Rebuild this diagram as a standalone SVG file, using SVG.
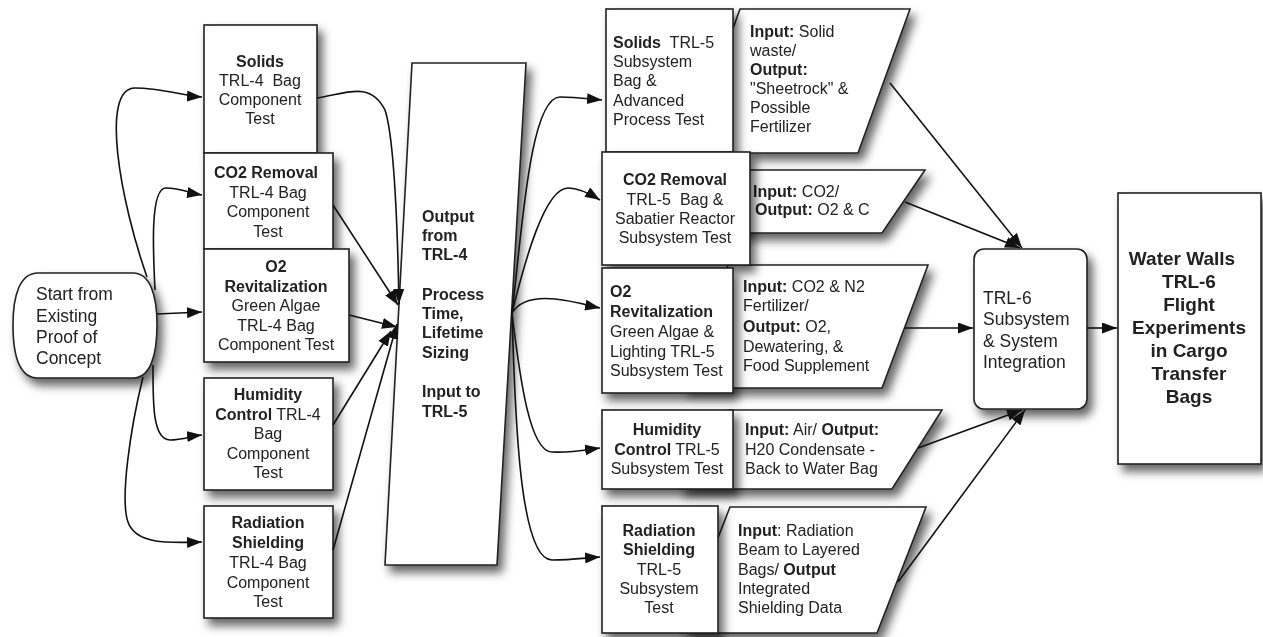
<svg xmlns="http://www.w3.org/2000/svg" width="1263" height="637" viewBox="0 0 1263 637">
<defs>
<filter id="sh" x="-20%" y="-20%" width="150%" height="150%">
<feDropShadow dx="5" dy="7" stdDeviation="5" flood-color="#000" flood-opacity="0.6"/>
</filter>
<marker id="ah" viewBox="0 0 15 11" refX="15" refY="5.5" markerWidth="15" markerHeight="11" markerUnits="userSpaceOnUse" orient="auto">
<path d="M0,0 L15,5.5 L0,11 Z" fill="#111"/>
</marker>
</defs>
<style>
.shape{fill:#fff;stroke:#222;stroke-width:1.6;}
.t{font-family:"Liberation Sans",Arial,sans-serif;font-size:16px;fill:#222;}
.c{text-anchor:middle;}
.b{font-weight:bold;}
.big{font-size:17.5px;}
.ww{font-size:19px;font-weight:bold;}
.conn path{fill:none;stroke:#111;stroke-width:1.6;marker-end:url(#ah);}
</style>
<rect width="1263" height="637" fill="#fff"/>

<!-- Start node -->
<g id="start" filter="url(#sh)">
<path class="shape" d="M38,273 H133 C150,273 157,295 157,325 C157,356 150,378 133,378 H38 C20,378 13,356 13,325 C13,295 20,273 38,273 Z"/>
<text class="t big" x="36" y="300">Start from</text>
<text class="t big" x="36" y="322">Existing</text>
<text class="t big" x="36" y="343">Proof of</text>
<text class="t big" x="36" y="364">Concept</text>
</g>

<!-- TRL-4 column -->
<g id="trl4-solids" filter="url(#sh)">
<rect class="shape" x="204" y="25" width="113" height="128"/>
<text class="t c" x="260" xml:space="preserve"><tspan class="b" x="260" y="67">Solids</tspan><tspan x="260" y="86">TRL-4  Bag</tspan><tspan x="260" y="105">Component</tspan><tspan x="260" y="124">Test</tspan></text>
</g>
<g id="trl4-co2" filter="url(#sh)">
<rect class="shape" x="204" y="153" width="129" height="96"/>
<text class="t c"><tspan class="b" x="266" y="178">CO2 Removal</tspan><tspan x="268" y="198">TRL-4 Bag</tspan><tspan x="268" y="217">Component</tspan><tspan x="268" y="237">Test</tspan></text>
</g>
<g id="trl4-o2" filter="url(#sh)">
<rect class="shape" x="204" y="249" width="145" height="113"/>
<text class="t c"><tspan class="b" x="276" y="272">O2</tspan><tspan class="b" x="276" y="292">Revitalization</tspan><tspan x="276" y="311">Green Algae</tspan><tspan x="276" y="331">TRL-4 Bag</tspan><tspan x="276" y="350">Component Test</tspan></text>
</g>
<g id="trl4-humidity" filter="url(#sh)">
<rect class="shape" x="204" y="378" width="129" height="112"/>
<text class="t c"><tspan class="b" x="268" y="400">Humidity</tspan><tspan x="268" y="420"><tspan class="b">Control</tspan> TRL-4</tspan><tspan x="268" y="439">Bag</tspan><tspan x="268" y="459">Component</tspan><tspan x="268" y="478">Test</tspan></text>
</g>
<g id="trl4-radiation" filter="url(#sh)">
<rect class="shape" x="204" y="506" width="129" height="112"/>
<text class="t c"><tspan class="b" x="268" y="528">Radiation</tspan><tspan class="b" x="268" y="548">Shielding</tspan><tspan x="268" y="568">TRL-4 Bag</tspan><tspan x="268" y="588">Component</tspan><tspan x="268" y="607">Test</tspan></text>
</g>

<!-- Middle -->
<g id="output-trl4" filter="url(#sh)">
<path class="shape" d="M412,63 L526,63 L497,565 L385,565 Z"/>
<text class="t b"><tspan x="422" y="222">Output</tspan><tspan x="422" y="241">from</tspan><tspan x="422" y="260">TRL-4</tspan><tspan x="422" y="300">Process</tspan><tspan x="422" y="319">Time,</tspan><tspan x="422" y="338">Lifetime</tspan><tspan x="422" y="358">Sizing</tspan><tspan x="422" y="397">Input to</tspan><tspan x="422" y="417">TRL-5</tspan></text>
</g>

<!-- TRL-5 inputs/outputs (parallelograms) -->
<g id="io-solids" filter="url(#sh)">
<path class="shape" d="M740,9 L910,9 L858,153 L688,153 Z"/>
<text class="t"><tspan x="750" y="37"><tspan class="b">Input:</tspan> Solid</tspan><tspan x="750" y="56">waste/</tspan><tspan class="b" x="750" y="75">Output:</tspan><tspan x="750" y="94">"Sheetrock" &amp;</tspan><tspan x="750" y="113">Possible</tspan><tspan x="750" y="132">Fertilizer</tspan></text>
</g>
<g id="io-co2" filter="url(#sh)">
<path class="shape" d="M745,170 L925,170 L882,233 L702,233 Z"/>
<text class="t"><tspan x="753" y="197"><tspan class="b">Input:</tspan> CO2/</tspan><tspan x="755" y="215"><tspan class="b">Output:</tspan> O2 &amp; C</tspan></text>
</g>
<g id="io-o2" filter="url(#sh)">
<path class="shape" d="M728,265 L928,265 L882,388 L682,388 Z"/>
<text class="t"><tspan x="743" y="292"><tspan class="b">Input:</tspan> CO2 &amp; N2</tspan><tspan x="743" y="311">Fertilizer/</tspan><tspan x="743" y="332"><tspan class="b">Output:</tspan> O2,</tspan><tspan x="743" y="352">Dewatering, &amp;</tspan><tspan x="743" y="371">Food Supplement</tspan></text>
</g>
<g id="io-humidity" filter="url(#sh)">
<path class="shape" d="M728,410 L942,410 L892,489 L678,489 Z"/>
<text class="t"><tspan x="745" y="435"><tspan class="b">Input:</tspan> Air/ <tspan class="b">Output:</tspan></tspan><tspan x="745" y="455">H20 Condensate -</tspan><tspan x="745" y="474">Back to Water Bag</tspan></text>
</g>
<g id="io-radiation" filter="url(#sh)">
<path class="shape" d="M730,507 L926,507 L877,633 L681,633 Z"/>
<text class="t"><tspan x="738" y="536"><tspan class="b">Input</tspan>: Radiation</tspan><tspan x="738" y="555">Beam to Layered</tspan><tspan x="738" y="575">Bags/ <tspan class="b">Output</tspan></tspan><tspan x="738" y="594">Integrated</tspan><tspan x="738" y="613">Shielding Data</tspan></text>
</g>

<!-- TRL-5 column -->
<g id="trl5-solids" filter="url(#sh)">
<rect class="shape" x="606" y="9" width="127" height="143"/>
<text class="t" xml:space="preserve"><tspan x="613" y="48"><tspan class="b">Solids</tspan>  TRL-5</tspan><tspan x="613" y="67">Subsystem</tspan><tspan x="613" y="86">Bag &amp;</tspan><tspan x="613" y="106">Advanced</tspan><tspan x="613" y="125">Process Test</tspan></text>
</g>
<g id="trl5-co2" filter="url(#sh)">
<rect class="shape" x="602" y="152" width="148" height="113"/>
<text class="t c" xml:space="preserve"><tspan class="b" x="675" y="185">CO2 Removal</tspan><tspan x="675" y="205">TRL-5  Bag &amp;</tspan><tspan x="675" y="224">Sabatier Reactor</tspan><tspan x="675" y="243">Subsystem Test</tspan></text>
</g>
<g id="trl5-o2" filter="url(#sh)">
<rect class="shape" x="602" y="268" width="131" height="125"/>
<text class="t"><tspan class="b" x="610" y="297">O2</tspan><tspan class="b" x="610" y="317">Revitalization</tspan><tspan x="610" y="337">Green Algae &amp;</tspan><tspan x="610" y="357">Lighting TRL-5</tspan><tspan x="610" y="376">Subsystem Test</tspan></text>
</g>
<g id="trl5-humidity" filter="url(#sh)">
<rect class="shape" x="602" y="410" width="131" height="79"/>
<text class="t c"><tspan class="b" x="667" y="435">Humidity</tspan><tspan x="667" y="455"><tspan class="b">Control</tspan> TRL-5</tspan><tspan x="667" y="474">Subsystem Test</tspan></text>
</g>
<g id="trl5-radiation" filter="url(#sh)">
<rect class="shape" x="602" y="506" width="116" height="127"/>
<text class="t c"><tspan class="b" x="659" y="536">Radiation</tspan><tspan class="b" x="659" y="555">Shielding</tspan><tspan x="659" y="575">TRL-5</tspan><tspan x="659" y="594">Subsystem</tspan><tspan x="659" y="613">Test</tspan></text>
</g>

<!-- TRL-6 -->
<g id="trl6" filter="url(#sh)">
<rect class="shape" x="974" y="249" width="113" height="160" rx="10" ry="10"/>
<text class="t big"><tspan x="983" y="304">TRL-6</tspan><tspan x="983" y="325">Subsystem</tspan><tspan x="983" y="347">&amp; System</tspan><tspan x="983" y="368">Integration</tspan></text>
</g>

<!-- Water Walls -->
<g id="waterwalls" filter="url(#sh)">
<rect class="shape" x="1118" y="193" width="143" height="271"/>
<text class="t ww c"><tspan x="1182" y="265">Water Walls</tspan><tspan x="1189" y="288">TRL-6</tspan><tspan x="1189" y="311">Flight</tspan><tspan x="1189" y="334">Experiments</tspan><tspan x="1189" y="357">in Cargo</tspan><tspan x="1189" y="380">Transfer</tspan><tspan x="1189" y="403">Bags</tspan></text>
</g>

<!-- Connectors -->
<g id="connectors" class="conn">
<path d="M147,277 C120,200 100,88 135,88 C160,88 185,96 202,97"/>
<path d="M155,290 C153,250 150,188 166,188 C180,188 190,193 202,195"/>
<path d="M157,314 L202,312"/>
<path d="M153,365 C153,400 152,440 170,440 C182,440 192,436 202,435"/>
<path d="M143,377 C130,430 120,500 128,522 C136,545 170,543 202,542"/>

<path d="M317,98 C345,94 370,80 385,110 C395,140 398,250 399,304"/>
<path d="M333,205 L398,305"/>
<path d="M349,315 L397,327"/>
<path d="M333,425 L391,331"/>
<path d="M333,550 L397,324"/>

<path d="M512,313 C522,230 530,97 560,97 C575,97 590,99 602,100"/>
<path d="M512,313 C525,260 545,188 568,188 C580,188 592,195 600,200"/>
<path d="M512,313 C520,300 535,297 555,299 C575,301 590,306 600,308"/>
<path d="M512,313 C520,380 530,452 552,452 C570,453 585,450 600,448"/>
<path d="M512,313 C515,420 520,560 552,560 C570,560 585,558 600,557"/>

<path d="M890,83 L1022,248"/>
<path d="M905,202 L1020,248"/>
<path d="M905,328 L973,328"/>
<path d="M918,448 L1022,410"/>
<path d="M898,582 L1025,410"/>
<path d="M1087,328 L1117,328"/>
</g>
</svg>
